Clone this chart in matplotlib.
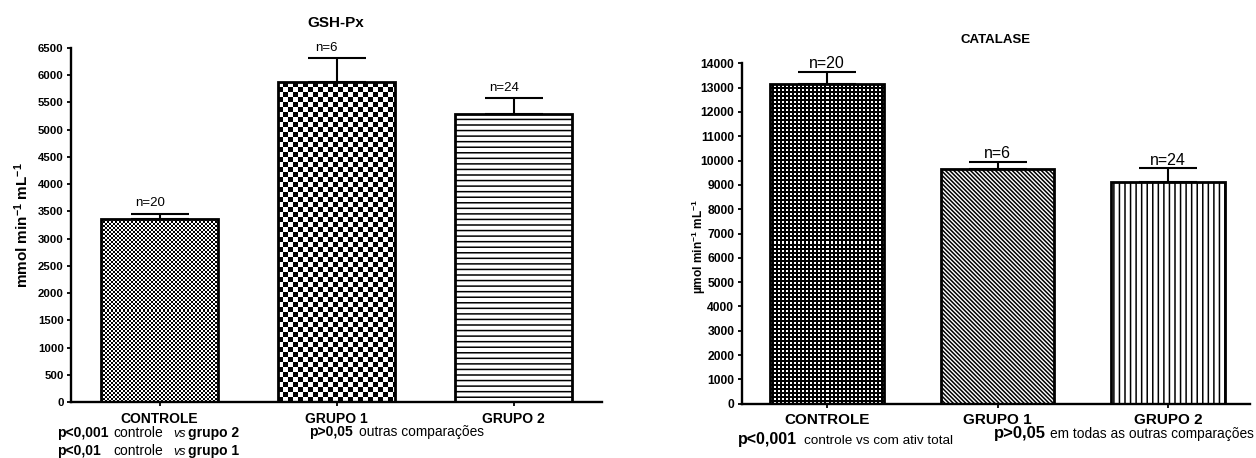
import numpy as np
import matplotlib
matplotlib.use("Agg")
import matplotlib.pyplot as plt

plt.rcParams['font.family'] = ['Liberation Sans', 'DejaVu Sans']
plt.rcParams['mathtext.fontset'] = 'custom'
plt.rcParams['mathtext.rm'] = 'Liberation Sans'
plt.rcParams['mathtext.bf'] = 'Liberation Sans:bold'
plt.rcParams['mathtext.it'] = 'Liberation Sans:italic'
plt.rcParams['hatch.linewidth'] = 1.1

W, H, DPI = 1256, 458, 100

# ---- data ----
groups = ['CONTROLE', 'GRUPO 1', 'GRUPO 2']

gsh_mean = [3360, 5875, 5280]
gsh_sem = [100, 430, 292]
gsh_n = [20, 6, 24]
gsh_ticks = np.arange(0, 6501, 500)

cat_mean = [13140, 9640, 9130]
cat_sem = [518, 302, 548]
cat_n = [20, 6, 24]
cat_ticks = np.arange(0, 14001, 1000)

fig = plt.figure(figsize=(W / DPI, H / DPI), dpi=DPI)


def fpos(x, y):
    return x / W, 1 - y / H


def pattern_fill(ax, bar, kind, cell):
    """Fill a bar with a pixel pattern (checkerboard or dotted grid)."""
    x0, y0 = bar.get_x(), bar.get_y()
    x1, y1 = x0 + bar.get_width(), y0 + bar.get_height()
    (px0, py0), (px1, py1) = ax.transData.transform([(x0, y0), (x1, y1)])
    nx = int(round(abs(px1 - px0)))
    ny = int(round(abs(py1 - py0)))
    jj, ii = np.meshgrid(np.arange(nx), np.arange(ny))
    if kind == 'checker':
        img = ((ii // cell + jj // cell) % 2).astype(float)
    else:
        half = cell // 2
        img = (((ii % cell) < half) & ((jj % cell) < half)).astype(float)
    im = ax.imshow(img, cmap='gray', vmin=0, vmax=1, extent=(x0, x1, y0, y1),
                   origin='lower', interpolation='nearest', aspect='auto',
                   zorder=2)
    im.set_clip_path(bar)


def draw_panel(ax, means, sems, ns, ticks, ylim, xlim, fills,
               tick_fs, xlab_fs, n_fs, n_dx, n_dy, cap):
    x = np.arange(len(means))
    ax.set_xlim(*xlim)
    ax.set_ylim(*ylim)
    bars = ax.bar(x, means, width=0.665, color='white', edgecolor='black',
                  linewidth=0, zorder=1)
    for b, f in zip(bars, fills):
        kind, val = f
        if kind == 'hatch':
            b.set_hatch(val)
            b.set_edgecolor('black')
        else:
            pattern_fill(ax, b, kind, val)
    ax.bar(x, means, width=0.665, fill=False, edgecolor='black',
           linewidth=2.0, zorder=3)
    ax.errorbar(x, means, yerr=[np.zeros(len(sems)), sems], fmt='none',
                ecolor='black', elinewidth=1.5, capsize=cap, capthick=1.5,
                zorder=4)
    for xi, m, s, n in zip(x, means, sems, ns):
        ax.annotate(f'n={n}', (xi, m + s), xytext=(n_dx, n_dy),
                    textcoords='offset points', ha='center', va='bottom',
                    fontsize=n_fs)
    ax.set_xlim(*xlim)
    ax.set_ylim(*ylim)
    ax.set_yticks(ticks)
    ax.set_xticks(x)
    ax.set_xticklabels(groups, fontsize=xlab_fs, fontweight='bold')
    for lab in ax.get_yticklabels():
        lab.set_fontweight('bold')
        lab.set_fontsize(tick_fs)
    for side in ('top', 'right'):
        ax.spines[side].set_visible(False)
    for side in ('left', 'bottom'):
        ax.spines[side].set_linewidth(1.7)
    ax.tick_params(axis='y', direction='out', length=3, width=1.3, pad=2.3)
    ax.tick_params(axis='x', direction='out', length=3, width=1.3, pad=3.8)


# ---- GSH-Px panel ----
ax1 = fig.add_axes([71 / W, 1 - 402.3 / H, 531 / W, 354.6 / H])
draw_panel(ax1, gsh_mean, gsh_sem, gsh_n, gsh_ticks, (0, 6500), (-0.5, 2.5),
           [('checker', 2), ('checker', 5), ('hatch', '---')],
           tick_fs=8.2, xlab_fs=10, n_fs=9.5, n_dx=-7, n_dy=3, cap=21)

# ---- CATALASE panel ----
ax2 = fig.add_axes([741.7 / W, 1 - 403.7 / H, 508.3 / W, 340.4 / H])
draw_panel(ax2, cat_mean, cat_sem, cat_n, cat_ticks, (0, 14000), (-0.5, 2.48),
           [('grid', 4), ('hatch', '\\' * 8), ('hatch', '|||')],
           tick_fs=8.7, xlab_fs=11, n_fs=11.5, n_dx=0, n_dy=0.5, cap=21)

# ---- titles and axis labels ----
fig.text(*fpos(336, 27), 'GSH-Px', ha='center', va='baseline',
         fontsize=11, fontweight='bold')
fig.text(*fpos(996, 43), 'CATALASE', ha='center', va='baseline',
         fontsize=9.5, fontweight='bold')
fig.text(*fpos(22, 225), r'mmol min$^{\mathbf{-1}}$ mL$^{\mathbf{-1}}$',
         rotation=90, ha='center', va='center', fontsize=11, fontweight='bold')
fig.text(*fpos(699, 247), r'µmol min$^{\mathbf{-1}}$ mL$^{\mathbf{-1}}$',
         rotation=90, ha='center', va='center', fontsize=8.6, fontweight='bold')

# ---- statistics notes ----
notes = [
    (57, 437, 'p<0,001', 'bold', 'normal', 10),
    (113, 437, 'controle', 'normal', 'normal', 10),
    (173, 437, 'vs', 'normal', 'italic', 9),
    (188, 437, 'grupo 2', 'bold', 'normal', 10),
    (57, 455, 'p<0,01', 'bold', 'normal', 10),
    (113, 455, 'controle', 'normal', 'normal', 10),
    (173, 455, 'vs', 'normal', 'italic', 9),
    (188, 455, 'grupo 1', 'bold', 'normal', 10),
    (309, 436, 'p>0,05', 'bold', 'normal', 10),
    (359, 436, 'outras comparações', 'normal', 'normal', 9.9),
    (738, 444, 'p<0,001', 'bold', 'normal', 11.5),
    (804, 444, 'controle vs com ativ total', 'normal', 'normal', 9.7),
    (994, 438, 'p>0,05', 'bold', 'normal', 12),
    (1050, 438, 'em todas as outras comparações', 'normal', 'normal', 9.9),
]
for x, y, s, w, st, fs in notes:
    fig.text(*fpos(x, y), s, ha='left', va='baseline', fontsize=fs,
             fontweight=w, fontstyle=st)

fig.savefig('out.png', dpi=DPI)
